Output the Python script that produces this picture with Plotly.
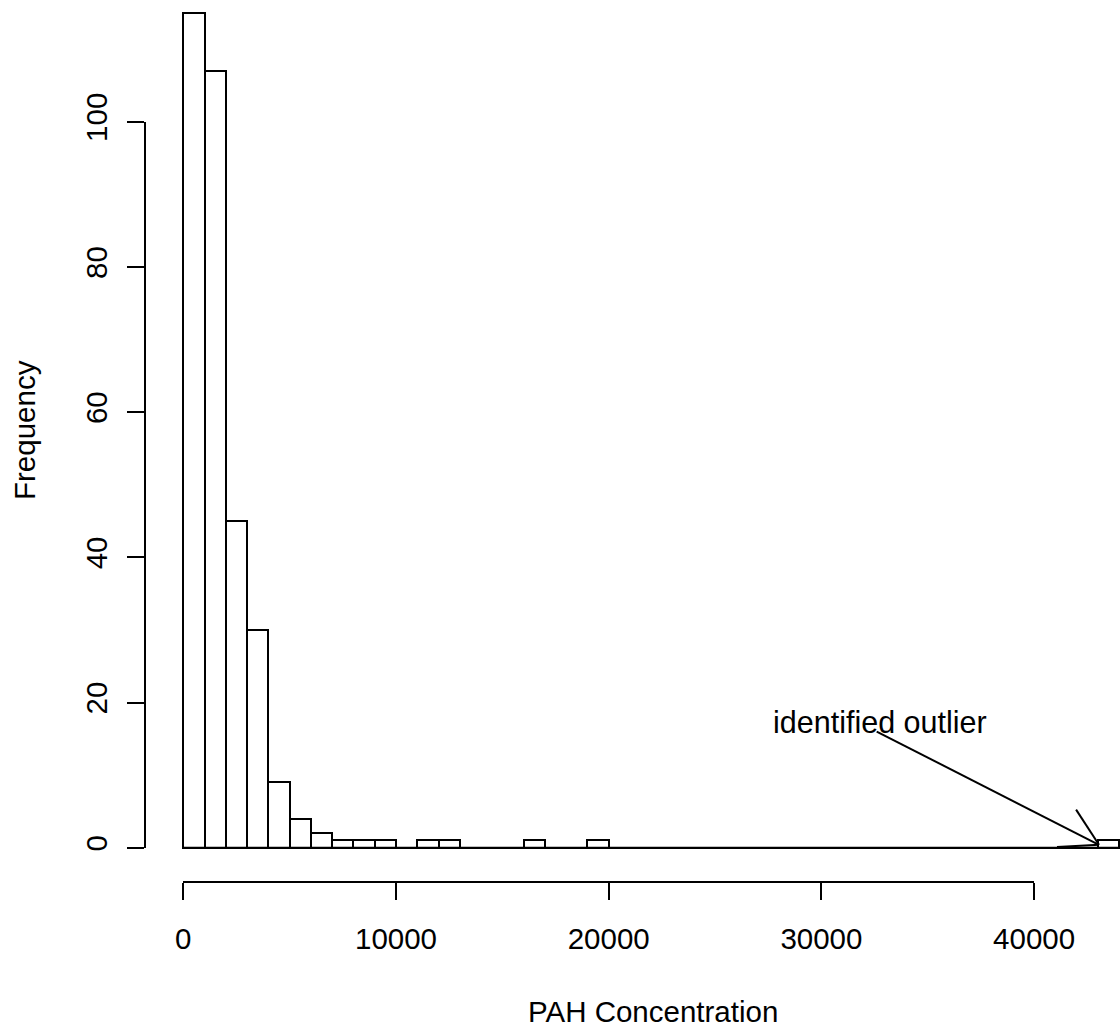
import math
import plotly.graph_objects as go

# ---- data ----
bin_edges = list(range(0, 45000, 1000))  # 0 .. 44000
counts = [115, 107, 45, 30, 9, 4, 2, 1, 1, 1,
          0, 1, 1, 0, 0, 0, 1, 0, 0, 1,
          0, 0, 0, 0, 0, 0, 0, 0, 0, 0,
          0, 0, 0, 0, 0, 0, 0, 0, 0, 0,
          0, 0, 0, 1]
x_ticks = [0, 10000, 20000, 30000, 40000]
y_ticks = [0, 20, 40, 60, 80, 100]
x_title = "PAH Concentration"
y_title = "Frequency"
outlier_label = "identified outlier"
outlier_label_pos = (32750, 17.3)
arrow_start = (32600, 16.0)
arrow_tip = (43050, 0.4)

# ---- layout constants ----
W, H = 1120, 1034
ML, MR, MT, MB = 145, 0, 0, 152
x_range = [-1801, 44039]
y_range = [-4.72, 116.76]
FONT = "Liberation Sans, Arial, Helvetica, sans-serif"
FS = 29.5
LW = 2

centers = [(a + b) / 2 for a, b in zip(bin_edges[:-1], bin_edges[1:])]
widths = [b - a for a, b in zip(bin_edges[:-1], bin_edges[1:])]

fig = go.Figure()
fig.add_trace(go.Bar(
    x=centers, y=counts, width=widths,
    marker=dict(color="white", line=dict(color="black", width=LW)),
    showlegend=False, hoverinfo="x+y",
))
# empty trace to register the display axes
fig.add_trace(go.Scatter(x=[], y=[], xaxis="x2", yaxis="y2", showlegend=False))

def dom(lo, hi, rng):
    return [(lo - rng[0]) / (rng[1] - rng[0]), (hi - rng[0]) / (rng[1] - rng[0])]

axis_common = dict(showline=True, linecolor="black", linewidth=LW,
                   ticks="outside", ticklen=17, tickwidth=LW, tickcolor="black",
                   showgrid=False, zeroline=False, fixedrange=True,
                   tickfont=dict(family=FONT, size=FS, color="black"))

fig.update_layout(
    width=W, height=H,
    margin=dict(l=ML, r=MR, t=MT, b=MB, pad=0, autoexpand=False),
    paper_bgcolor="white", plot_bgcolor="rgba(0,0,0,0)",
    bargap=0,
    xaxis=dict(range=x_range, visible=False, fixedrange=True),
    yaxis=dict(range=y_range, visible=False, fixedrange=True),
    xaxis2=dict(domain=dom(x_ticks[0], x_ticks[-1], x_range),
                range=[x_ticks[0], x_ticks[-1]], anchor="free", position=0,
                tickvals=x_ticks, tickformat="d", ticklabelstandoff=14, **axis_common),
    yaxis2=dict(domain=dom(y_ticks[0], y_ticks[-1], y_range),
                range=[y_ticks[0], y_ticks[-1]], anchor="free", position=0,
                tickvals=y_ticks, tickangle=-90, ticklabelstandoff=8, **axis_common),
)

# baseline across all bins (R draws zero-height rects as lines)
fig.add_shape(type="line", xref="x", yref="y", x0=bin_edges[0], x1=bin_edges[-1],
              y0=0, y1=0, line=dict(color="black", width=LW))

# arrow (open V head like R's arrows())
plot_w = W - ML - MR
plot_h = H - MT - MB
sx = plot_w / (x_range[1] - x_range[0])
sy = plot_h / (y_range[1] - y_range[0])
fig.add_shape(type="line", xref="x", yref="y",
              x0=arrow_start[0], y0=arrow_start[1], x1=arrow_tip[0], y1=arrow_tip[1],
              line=dict(color="black", width=LW))
dxp = (arrow_start[0] - arrow_tip[0]) * sx
dyp = -(arrow_start[1] - arrow_tip[1]) * sy
theta = math.atan2(dyp, dxp)
head_len = 42
for d in (math.radians(30), -math.radians(30)):
    px = head_len * math.cos(theta + d)
    py = head_len * math.sin(theta + d)
    fig.add_shape(type="line", xref="x", yref="y",
                  x0=arrow_tip[0], y0=arrow_tip[1],
                  x1=arrow_tip[0] + px / sx, y1=arrow_tip[1] - py / sy,
                  line=dict(color="black", width=LW))

fig.add_annotation(x=outlier_label_pos[0], y=outlier_label_pos[1], xref="x", yref="y",
                   text=outlier_label, showarrow=False, xanchor="center", yanchor="middle",
                   font=dict(family=FONT, size=30.5, color="black"))

# axis titles
fig.add_annotation(x=(653 - ML) / plot_w, y=-(1011 - (H - MB)) / plot_h,
                   xref="paper", yref="paper", text=x_title, showarrow=False,
                   xanchor="center", yanchor="middle",
                   font=dict(family=FONT, size=FS, color="black"))
fig.add_annotation(x=(25 - ML) / plot_w, y=((H - MB) - 430) / plot_h,
                   xref="paper", yref="paper", text=y_title, showarrow=False,
                   textangle=-90, xanchor="center", yanchor="middle",
                   font=dict(family=FONT, size=FS, color="black"))

fig.write_html("out.html")
